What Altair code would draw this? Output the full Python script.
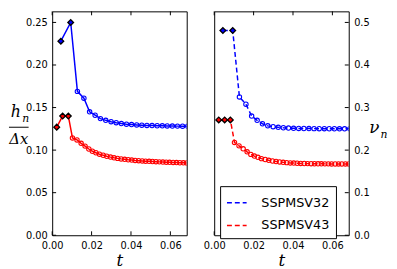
import altair as alt
import pandas as pd

series_names = ["SSPMSV32", "SSPMSV43"]
series_colors = ["#0000ff", "#ff0000"]

# SSPMSV32 (2 startup steps shown as diamonds)
t32 = [0.0044, 0.0094, 0.0128, 0.0161, 0.0190, 0.0218, 0.0245, 0.0272, 0.0299, 0.0325,
       0.0351, 0.0377, 0.0403, 0.0429, 0.0455, 0.0481, 0.0507, 0.0533, 0.0559, 0.0584,
       0.0610, 0.0636, 0.0662, 0.0688]
h32 = [0.228, 0.250, 0.169, 0.161, 0.145, 0.141, 0.137, 0.135, 0.1334, 0.1322,
       0.1312, 0.1305, 0.1300, 0.1296, 0.1293, 0.1290, 0.1288, 0.1286, 0.1285, 0.1284,
       0.1283, 0.1282, 0.1281, 0.1280]
nu32 = [0.481, 0.481, 0.325, 0.308, 0.280, 0.270, 0.262, 0.257, 0.255, 0.2535,
        0.2525, 0.2518, 0.2513, 0.2510, 0.2508, 0.2506, 0.2505, 0.2504, 0.2503, 0.2502,
        0.2502, 0.2501, 0.2501, 0.2500]
start32 = 2

# SSPMSV43 (3 startup steps shown as diamonds)
t43 = [0.0023, 0.0053, 0.0082, 0.0103, 0.0126, 0.0147, 0.0167, 0.0186, 0.0204, 0.0222,
       0.0240, 0.0259, 0.0277, 0.0296, 0.0314, 0.0332, 0.0350, 0.0368, 0.0386, 0.0404,
       0.0421, 0.0439, 0.0457, 0.0474, 0.0492, 0.0509, 0.0527, 0.0544, 0.0562, 0.0579,
       0.0596, 0.0614, 0.0631, 0.0648, 0.0666, 0.0683]
h43 = [0.127, 0.140, 0.140, 0.1143, 0.112, 0.108, 0.1047, 0.1013, 0.0987, 0.0969,
       0.0952, 0.0940, 0.0928, 0.0918, 0.0910, 0.0903, 0.0897, 0.0892, 0.0887, 0.0883,
       0.0879, 0.0876, 0.0873, 0.0870, 0.0868, 0.0866, 0.0864, 0.0862, 0.0860, 0.0858,
       0.0857, 0.0855, 0.0854, 0.0852, 0.0851, 0.0850]
nu43 = [0.271, 0.271, 0.271, 0.218, 0.210, 0.203, 0.196, 0.190, 0.186, 0.183,
        0.180, 0.178, 0.176, 0.1745, 0.1733, 0.1722, 0.1713, 0.1706, 0.1700, 0.1695,
        0.1691, 0.1688, 0.1685, 0.1683, 0.1681, 0.1680, 0.1679, 0.1678, 0.1677, 0.1677,
        0.1676, 0.1676, 0.1675, 0.1675, 0.1675, 0.1675]
start43 = 3

x_ticks = [0.0, 0.02, 0.04, 0.06]
left_ticks = [0.0, 0.05, 0.10, 0.15, 0.20, 0.25]
right_ticks = [0.0, 0.1, 0.2, 0.3, 0.4, 0.5]

rows = []
for name, ts, hs, nus, ns in [("SSPMSV32", t32, h32, nu32, start32),
                              ("SSPMSV43", t43, h43, nu43, start43)]:
    for i, (t, h, nu) in enumerate(zip(ts, hs, nus)):
        rows.append({"series": name, "t": t, "hdx": h, "nu": nu,
                     "kind": "start" if i < ns else "step"})
df = pd.DataFrame(rows)

W, H = 137, 228
cs = alt.Scale(domain=series_names, range=series_colors)
xs = alt.Scale(domain=[0, 0.0683], nice=False, zero=False)
X = alt.X("t:Q", scale=xs, axis=alt.Axis(values=x_ticks, format=".2f", title="t"))


def panel(yf, ydom, yvals, yfmt, orient, dash, legend, tick_x0, tick_x1):
    ys = alt.Scale(domain=ydom, nice=False, zero=False)
    Y = alt.Y(f"{yf}:Q", scale=ys,
              axis=alt.Axis(values=yvals, format=yfmt, title=None, orient=orient))
    base = alt.Chart(df)
    line_kw = dict(strokeWidth=1.5, clip=True)
    if dash:
        line_kw["strokeDash"] = dash
    line = base.mark_line(**line_kw).encode(
        x=X, y=Y, color=alt.Color("series:N", scale=cs, legend=legend))
    circles = base.transform_filter(alt.datum.kind == "step").mark_point(
        shape="circle", filled=False, size=20, strokeWidth=1.1, opacity=1, clip=True
    ).encode(x=X, y=Y, stroke=alt.Stroke("series:N", scale=cs, legend=None))
    diamonds = base.transform_filter(alt.datum.kind == "start").mark_point(
        shape="diamond", filled=True, size=34, stroke="black", strokeWidth=1.3,
        opacity=1, clip=True
    ).encode(x=X, y=Y, fill=alt.Fill("series:N", scale=cs, legend=None))

    xt = alt.Chart(pd.DataFrame({"t": x_ticks}))
    top_t = xt.mark_rule(color="black", strokeWidth=1).encode(
        x=X, y=alt.value(0), y2=alt.value(4))
    bot_t = xt.mark_rule(color="black", strokeWidth=1).encode(
        x=X, y=alt.value(H), y2=alt.value(H - 4))
    yt = alt.Chart(pd.DataFrame({yf: yvals}))
    side_t = yt.mark_rule(color="black", strokeWidth=1).encode(
        y=Y, x=alt.value(tick_x0), x2=alt.value(tick_x1))
    return [line, circles, diamonds, top_t, bot_t, side_t]


left_layers = panel("hdx", [0, 0.263], left_ticks, ".2f", "left", None, None, 0, 4)
lab_font = "DejaVu Serif"
txt = lambda s, x, y, size: alt.Chart(pd.DataFrame({"s": [s]})).mark_text(
    font=lab_font, fontStyle="italic", fontSize=size, color="black",
    align="center", baseline="middle").encode(
    text="s:N", x=alt.value(x), y=alt.value(y))
frac_bar = alt.Chart(pd.DataFrame({"s": [1]})).mark_rule(
    color="black", strokeWidth=1).encode(
    x=alt.value(-44), x2=alt.value(-24), y=alt.value(118))
left = alt.layer(*left_layers, txt("h", -37, 103, 16), txt("n", -27, 110, 11),
                 frac_bar, txt("Δx", -34, 130, 15)).properties(width=W, height=H)

legend = alt.Legend(orient="none", legendX=6, legendY=178, title=None,
                    symbolType="stroke", symbolDash=[5, 3], symbolStrokeWidth=1.5,
                    symbolSize=400, labelFont="DejaVu Sans", labelFontSize=13,
                    labelColor="black", labelOffset=14, strokeColor="black",
                    fillColor="white", padding=6, rowPadding=5, cornerRadius=0)
right_layers = panel("nu", [0, 0.526], right_ticks, ".1f", "right", [5, 3], legend,
                     W, W - 4)
right = alt.layer(*right_layers, txt("ν", 163, 119, 17), txt("n", 173, 126, 11)
                  ).properties(width=W, height=H)

chart = alt.hconcat(left, right, spacing=28, bounds="flush").resolve_scale(
    color="independent", stroke="independent", fill="independent"
).resolve_legend(color="independent").properties(padding=0).configure_view(
    stroke="black", strokeWidth=1
).configure_axis(
    labelFont="DejaVu Sans", labelFontSize=10, labelColor="black", labelPadding=5,
    labelFlush=False, labelOverlap=False,
    domain=False, ticks=False, tickSize=0, grid=False,
    titleFont="DejaVu Serif", titleFontStyle="italic", titleFontWeight="normal",
    titleFontSize=17, titleColor="black", titlePadding=3
)

chart.save("out.html", embed_options={"renderer": "svg", "actions": False})
